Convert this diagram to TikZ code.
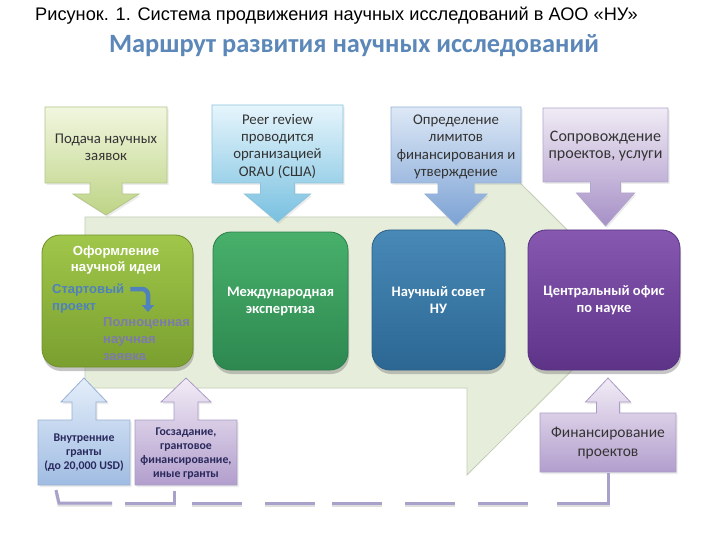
\documentclass[tikz,border=0pt]{standalone}
\usepackage{fontspec}
\setmainfont{Carlito}
\newfontfamily\arialf{Liberation Sans}
\usetikzlibrary{shadows,arrows.meta}
\definecolor{subt}{HTML}{5B87B9}
\definecolor{bgarrow}{HTML}{E6EEDB}
\definecolor{bgedge}{HTML}{C3CDB5}
\definecolor{txtdark}{HTML}{333333}
\definecolor{startblue}{HTML}{4F81BD}
\definecolor{fullgray}{HTML}{7D7AAE}
\definecolor{dashc}{HTML}{A8A2CB}
% callout colours
\definecolor{cAtop}{HTML}{F1F6DF}\definecolor{cAbot}{HTML}{BED486}\definecolor{cAedge}{HTML}{B3C688}
\definecolor{cBtop}{HTML}{E6F5FC}\definecolor{cBbot}{HTML}{78C0E0}\definecolor{cBedge}{HTML}{8CC3DB}
\definecolor{cCtop}{HTML}{DDE8F6}\definecolor{cCbot}{HTML}{7CA2D4}\definecolor{cCedge}{HTML}{97B2D6}
\definecolor{cDtop}{HTML}{F0EBF5}\definecolor{cDbot}{HTML}{A690C6}\definecolor{cDedge}{HTML}{B2A5CB}
\definecolor{dAtop}{HTML}{E4EEFA}\definecolor{dAbot}{HTML}{A0BCE2}\definecolor{dAedge}{HTML}{97AFD3}
\definecolor{dBtop}{HTML}{F2ECF6}\definecolor{dBbot}{HTML}{B29ECD}\definecolor{dBedge}{HTML}{AA9CC6}
% main boxes
\definecolor{bAtop}{HTML}{A0C74A}\definecolor{bAbot}{HTML}{7A9F2F}\definecolor{bAedge}{HTML}{6F8F2B}
\definecolor{bBtop}{HTML}{48B06B}\definecolor{bBbot}{HTML}{2D8850}\definecolor{bBedge}{HTML}{2A7D49}
\definecolor{bCtop}{HTML}{4889B7}\definecolor{bCbot}{HTML}{2C6793}\definecolor{bCedge}{HTML}{2A5F87}
\definecolor{bDtop}{HTML}{8758B0}\definecolor{bDbot}{HTML}{5D3388}\definecolor{bDedge}{HTML}{563080}

\newcommand{\calldown}[8]{%
  \pgfmathsetmacro\cxx{(#2+#3)/2}%
  \pgfmathsetmacro\hbb{#5+11}%
  \path[#1] (#2,#4) -- (#3,#4) -- (#3,#5) -- (\cxx+#7,#5) -- (\cxx+#7,\hbb)
    -- (\cxx+#8,\hbb) -- (\cxx,#6) -- (\cxx-#8,\hbb) -- (\cxx-#7,\hbb)
    -- (\cxx-#7,#5) -- (#2,#5) -- cycle;}
\newcommand{\callup}[9]{%
  \pgfmathsetmacro\cxx{(#2+#3)/2}%
  \path[#1] (#2,#5) -- (#2,#4) -- (\cxx-#7,#4) -- (\cxx-#7,#9) -- (\cxx-#8,#9)
    -- (\cxx,#6) -- (\cxx+#8,#9) -- (\cxx+#7,#9) -- (\cxx+#7,#4)
    -- (#3,#4) -- (#3,#5) -- cycle;}

\begin{document}
\begin{tikzpicture}[x=1pt,y=-1pt,
  mainbox/.style={rounded corners=18pt, line width=0.8pt, text=white,
    font=\bfseries\fontsize{14.5}{17}\selectfont, align=center,
    drop shadow={opacity=0.45, shadow xshift=1pt, shadow yshift=-4pt}},
  callshape/.style={line width=0.8pt,
    drop shadow={opacity=0.15, shadow xshift=1.5pt, shadow yshift=-2pt}},
  calltext/.style={text=txtdark, align=center, font=\fontsize{14.8}{17.3}\selectfont},
  smalltext/.style={text=txtdark!80!blue, align=center, font=\bfseries\fontsize{11.8}{14}\selectfont},
  dashline/.style={draw=dashc, line width=3pt},
  dashshadow/.style={draw=black!25, line width=3pt, opacity=0.5},
]
\useasboundingbox (0,0) rectangle (720,540);
\fill[white] (0,0) rectangle (720,540);

% titles
\node[anchor=base west, inner sep=0pt, font=\arialf\fontsize{18.2}{21}\selectfont] (title) at (35,21)
  {Рисунок. 1. Система продвижения научных исследований в АОО «НУ»};
\node[inner sep=0pt, text=subt, font=\bfseries\fontsize{26.4}{30}\selectfont] (subtitle) at (354,46)
  {Маршрут развития научных исследований};

% background process arrow
\path[fill=bgarrow, draw=bgedge, line width=0.8pt]
  (85,217) -- (467,217) -- (467,130) -- (640,302.5) -- (467,475) -- (467,388) -- (85,388) -- cycle;

% top callouts
\calldown{callshape, top color=cAtop, bottom color=cAbot, draw=cAedge}{45}{167}{107}{183}{215}{16}{33}
\calldown{callshape, top color=cBtop, bottom color=cBbot, draw=cBedge}{212}{343}{105}{183}{222}{17}{33}
\calldown{callshape, top color=cCtop, bottom color=cCbot, draw=cCedge}{391}{521}{107}{183}{225}{18}{31}
\calldown{callshape, top color=cDtop, bottom color=cDbot, draw=cDedge}{543}{668}{108}{182}{226}{15}{29}

\node[calltext] (c1) at (106,147) {Подача научных\\заявок};
\node[calltext] (c2) at (277.5,146) {Peer review\\проводится\\организацией\\ORAU (США)};
\node[calltext] (c3) at (456,147) {Определение\\лимитов\\финансирования и\\утверждение};
\node[calltext, font=\fontsize{16}{17}\selectfont] (c4) at (605.5,146) {Сопровождение\\проектов, услуги};

% bottom callouts
\callup{callshape, top color=dAtop, bottom color=dAbot, draw=dAedge}{38}{130}{420}{485}{378}{12}{23}{402}
\callup{callshape, top color=dBtop, bottom color=dBbot, draw=dBedge}{135}{237}{420}{485}{378}{12}{25}{402}
\callup{callshape, top color=dBtop, bottom color=dBbot, draw=dBedge}{540}{676}{413}{472}{378}{11.5}{22.5}{402}

\node[smalltext] (d1) at (84,453) {Внутренние\\гранты\\(до 20,000 USD)};
\node[smalltext] (d2) at (186,453.5) {Госзадание,\\грантовое\\финансирование,\\иные гранты};
\node[calltext, font=\fontsize{15.5}{19}\selectfont] (d3) at (608,443) {Финансирование\\проектов};
\coordinate (d3b) at (608,473);

% main boxes
\node[mainbox, minimum width=151pt, minimum height=132pt, top color=bAtop, bottom color=bAbot, draw=bAedge] (b1) at (117.5,301) {};
\node[mainbox, minimum width=135pt, minimum height=138pt, top color=bBtop, bottom color=bBbot, draw=bBedge] (b2) at (280.5,301) {Международная\\экспертиза};
\node[mainbox, minimum width=133pt, minimum height=140pt, top color=bCtop, bottom color=bCbot, draw=bCedge] (b3) at (438.5,300) {Научный совет\\НУ};
\node[mainbox, minimum width=152pt, minimum height=140pt, top color=bDtop, bottom color=bDbot, draw=bDedge] (b4) at (604,300) {Центральный офис\\по науке};

% contents of box 1
\node[text=white, align=center, font=\arialf\bfseries\fontsize{13.2}{16}\selectfont] (b1title) at (116,260) {Оформление\\научной идеи};
\node[anchor=north west, inner sep=0pt, text=startblue, align=left, font=\arialf\bfseries\fontsize{13}{17}\selectfont] (start) at (52,284) {Стартовый\\проект};
\node[anchor=north west, inner sep=0pt, text=fullgray, align=left, font=\arialf\bfseries\fontsize{13}{17}\selectfont] (full) at (103,317) {Полноценная\\научная\\заявка};
\draw[startblue, line width=4.5pt, rounded corners=6pt, -{Triangle[length=7pt,width=12pt]}]
  (start.north east) ++(6,5) -| (148,312);

% dashed funding connector
\begin{scope}[yshift=-2pt]
  \draw[dashshadow] (56,490) -- (59,503) -- (112,503);
  \draw[dashshadow] (125,503) -- (174,503) -- (174,491);
  \foreach \a/\b in {192/242,265/315,332/382,405/455,478/528}
    \draw[dashshadow] (\a,503) -- (\b,503);
  \draw[dashshadow] (557,503) -- (608,503) -- (d3b);
\end{scope}
\draw[dashline] (56,490) -- (59,503) -- (112,503);
\draw[dashline] (125,503) -- (174,503) -- (174,491);
\foreach \a/\b in {192/242,265/315,332/382,405/455,478/528}
  \draw[dashline] (\a,503) -- (\b,503);
\draw[dashline] (557,503) -- (608,503) -- (d3b);
\end{tikzpicture}
\end{document}
